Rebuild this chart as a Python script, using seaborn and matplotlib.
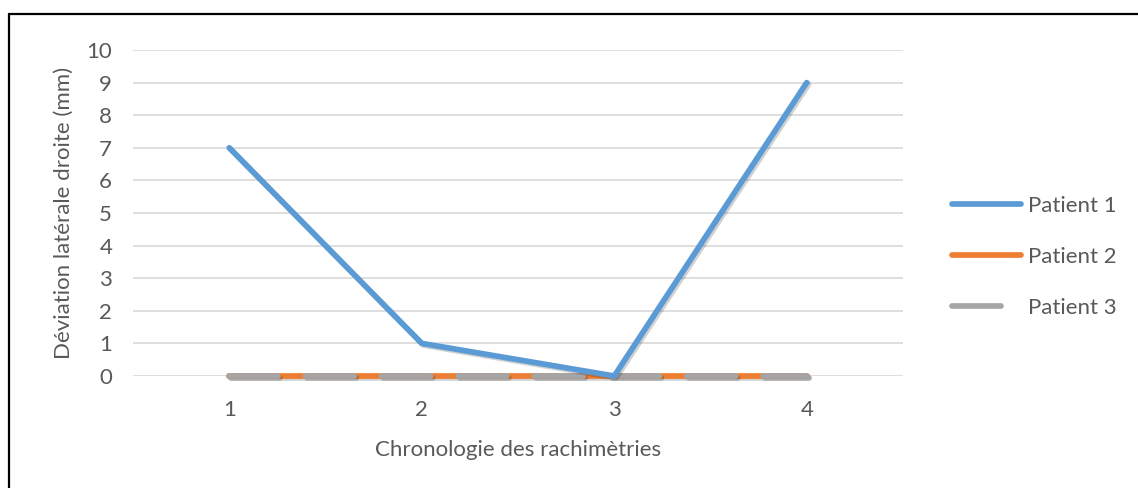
import matplotlib
matplotlib.use("Agg")
import matplotlib.pyplot as plt
import matplotlib.patheffects as pe
from matplotlib.lines import Line2D
import seaborn as sns
import pandas as pd

# Measurement order and right lateral deviation (mm) per patient
sessions = ["1", "2", "3", "4"]
patient_1 = [7, 1, 0, 9]
patient_2 = [0, 0, 0, 0]
patient_3 = [0, 0, 0, 0]
series_names = ["Patient 1", "Patient 2", "Patient 3"]
y_ticks = list(range(0, 11))

colors = {"Patient 1": "#5B9BD5", "Patient 2": "#ED7D31", "Patient 3": "#A5A5A5"}
text_color = "#595959"
fs = 16

df = pd.DataFrame({
    "session": sessions * 3,
    "x": list(range(len(sessions))) * 3,
    "value": patient_1 + patient_2 + patient_3,
    "patient": [n for n in series_names for _ in sessions],
})

sns.set_theme(style="white")
plt.rcParams["font.family"] = ["Lato", "DejaVu Sans"]

fig = plt.figure(figsize=(11.38, 4.88), dpi=100)
ax = fig.add_axes([133 / 1138, 1 - 376 / 488, (903 - 133) / 1138, (376 - 50) / 488])

shadow = [pe.SimpleLineShadow(offset=(1.3, -1.3), shadow_color="#000000", alpha=0.18),
          pe.Normal()]

lw = 4.1
dash = (8.6, 4.8)
order = ["Patient 2", "Patient 3", "Patient 1"]
for name in order:
    sub = df[df["patient"] == name]
    sns.lineplot(data=sub, x="x", y="value", ax=ax, color=colors[name],
                 linewidth=lw, legend=False, zorder=3 if name == "Patient 1" else 2)

for line in ax.get_lines():
    line.set_solid_capstyle("round")
    line.set_dash_capstyle("round")
    line.set_solid_joinstyle("round")
    line.set_clip_on(False)
    line.set_path_effects(shadow)
# Patient 3 is the second series drawn -> dashed on top of Patient 2
ax.get_lines()[1].set_dashes(dash)

ax.set_xlim(-0.5, 3.5)
ax.set_ylim(0, 10)
ax.set_xticks(range(len(sessions)))
ax.set_xticklabels(sessions)
ax.set_yticks(y_ticks)
ax.yaxis.grid(True, color="#D9D9D9", linewidth=1.2, zorder=0)
ax.set_axisbelow(True)
for s in ax.spines.values():
    s.set_visible(False)
ax.tick_params(axis="both", length=0, colors=text_color, labelsize=fs)
ax.tick_params(axis="x", pad=17)
ax.tick_params(axis="y", pad=15)

ax.set_xlabel("Chronologie des rachimètries", color=text_color, fontsize=fs, labelpad=15)
ax.set_ylabel("Déviation latérale droite (mm)", color=text_color, fontsize=fs, labelpad=9)

handles = [Line2D([0], [0], color=colors[n], linewidth=lw, solid_capstyle="round") for n in series_names]
handles[2] = Line2D([0], [0], color=colors["Patient 3"], linewidth=lw, solid_capstyle="round",
                    dash_capstyle="round", dashes=dash)
leg = fig.legend(handles, series_names, loc="center left", bbox_to_anchor=(952 / 1138, 1 - 257 / 488),
                 frameon=False, fontsize=fs, handlelength=3.1, handletextpad=0.3,
                 labelspacing=1.4, labelcolor=text_color, borderpad=0, borderaxespad=0)

# outer frame (top and left edges of the chart area)
fig.add_artist(Line2D([9 / 1138, 1.0], [1 - 14 / 488, 1 - 14 / 488], transform=fig.transFigure,
                      color="black", linewidth=1.6))
fig.add_artist(Line2D([9 / 1138, 9 / 1138], [0, 1 - 14 / 488], transform=fig.transFigure,
                      color="black", linewidth=1.6))

fig.savefig("out.png", dpi=100, facecolor="white")
